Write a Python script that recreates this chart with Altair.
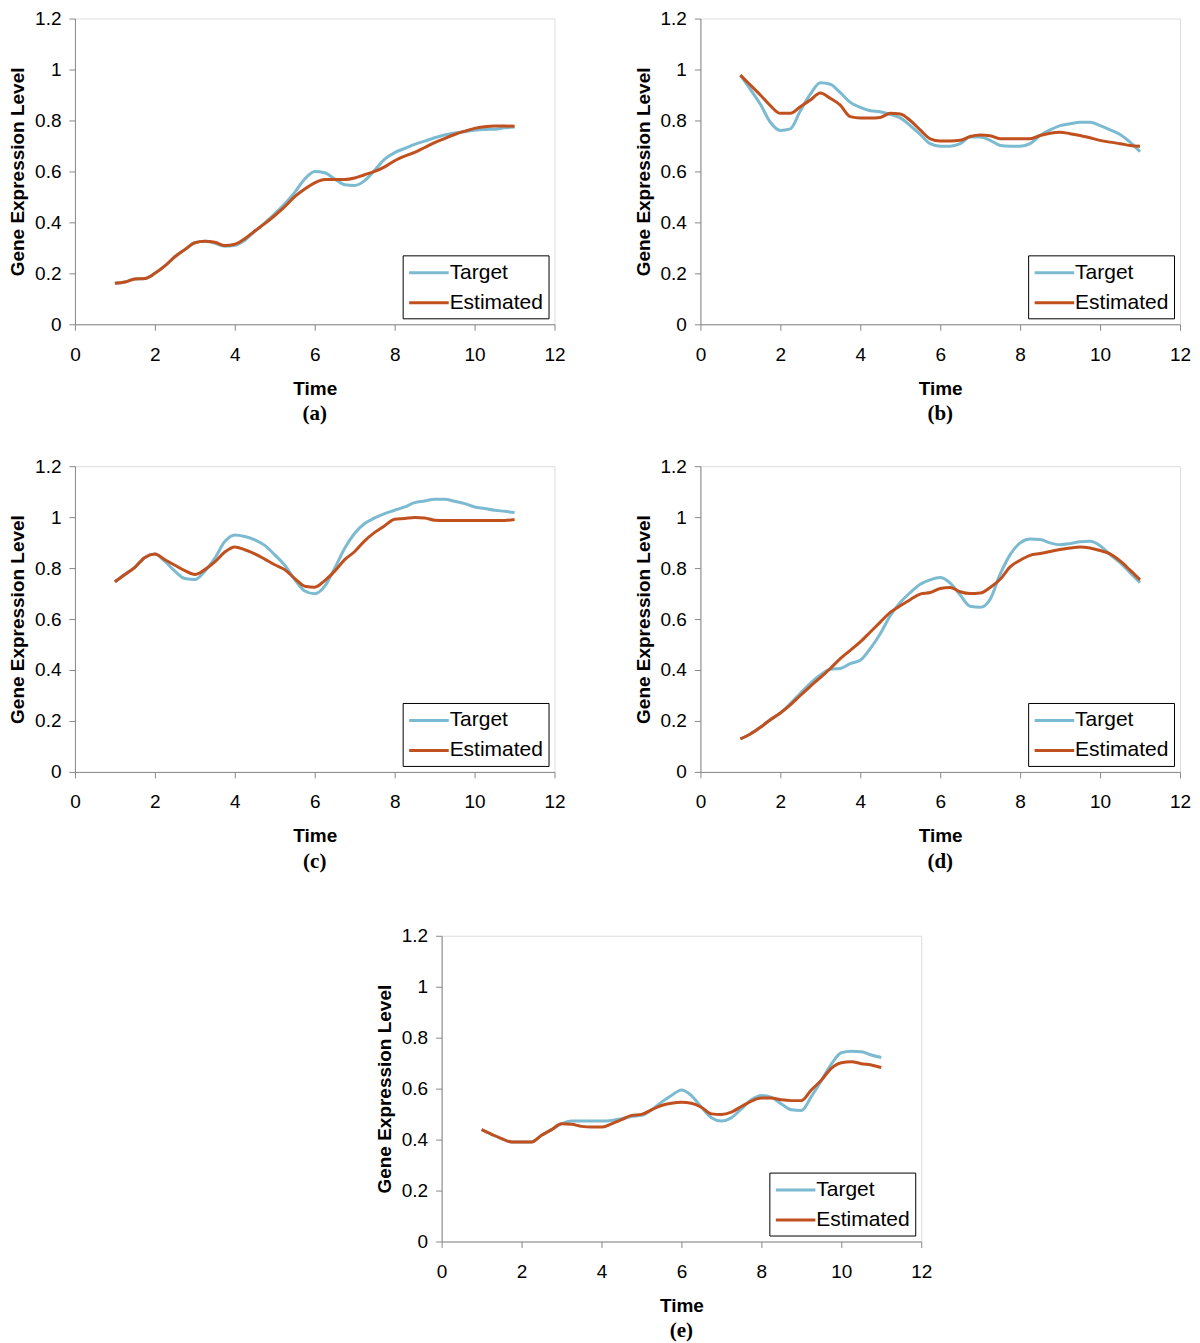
import altair as alt
import pandas as pd

TIME = [1, 1.25, 1.5, 1.75, 2, 2.25, 2.5, 2.75, 3, 3.25, 3.5, 3.75, 4, 4.25, 4.5, 4.75,
        5, 5.25, 5.5, 5.75, 6, 6.25, 6.5, 6.75, 7, 7.25, 7.5, 7.75, 8, 8.25, 8.5, 8.75,
        9, 9.25, 9.5, 9.75, 10, 10.25, 10.5, 10.75, 11]

SERIES = ["Target", "Estimated"]
X_TICKS = [0, 2, 4, 6, 8, 10, 12]
Y_TICKS = [0, 0.2, 0.4, 0.6, 0.8, 1.0, 1.2]

A_TARGET = [0.161, 0.166, 0.178, 0.180, 0.200, 0.229, 0.265, 0.293, 0.320, 0.326, 0.318,
            0.306, 0.310, 0.330, 0.365, 0.398, 0.434, 0.473, 0.518, 0.570, 0.600, 0.595,
            0.570, 0.548, 0.545, 0.564, 0.605, 0.648, 0.674, 0.690, 0.706, 0.719, 0.732,
            0.743, 0.751, 0.756, 0.762, 0.765, 0.766, 0.771, 0.774]
A_EST = [0.161, 0.166, 0.178, 0.180, 0.200, 0.229, 0.265, 0.293, 0.320, 0.326, 0.322,
         0.309, 0.314, 0.336, 0.366, 0.395, 0.427, 0.462, 0.501, 0.531, 0.555, 0.568,
         0.568, 0.568, 0.574, 0.587, 0.600, 0.618, 0.642, 0.660, 0.675, 0.694, 0.713,
         0.729, 0.745, 0.758, 0.769, 0.775, 0.778, 0.778, 0.777]

B_TARGET = [0.978, 0.922, 0.864, 0.793, 0.761, 0.767, 0.838, 0.903, 0.948, 0.942, 0.909,
            0.871, 0.851, 0.838, 0.834, 0.823, 0.810, 0.780, 0.745, 0.709, 0.699, 0.699,
            0.709, 0.735, 0.735, 0.722, 0.702, 0.699, 0.699, 0.709, 0.741, 0.763, 0.780,
            0.787, 0.793, 0.793, 0.780, 0.763, 0.745, 0.715, 0.677]
B_EST = [0.978, 0.939, 0.900, 0.858, 0.828, 0.828, 0.854, 0.880, 0.908, 0.887, 0.860,
         0.815, 0.810, 0.810, 0.812, 0.828, 0.825, 0.800, 0.763, 0.728, 0.719, 0.719,
         0.722, 0.737, 0.743, 0.740, 0.728, 0.728, 0.728, 0.728, 0.741, 0.750, 0.754,
         0.748, 0.741, 0.732, 0.722, 0.715, 0.709, 0.702, 0.699]

C_TARGET = [0.746, 0.775, 0.803, 0.842, 0.855, 0.826, 0.788, 0.759, 0.755, 0.788, 0.839,
            0.904, 0.930, 0.924, 0.911, 0.889, 0.852, 0.811, 0.755, 0.710, 0.699, 0.729,
            0.800, 0.878, 0.937, 0.975, 0.997, 1.014, 1.027, 1.040, 1.057, 1.063, 1.070,
            1.070, 1.062, 1.053, 1.040, 1.034, 1.027, 1.023, 1.018]
C_EST = [0.746, 0.775, 0.803, 0.842, 0.855, 0.833, 0.811, 0.790, 0.775, 0.794, 0.824,
         0.863, 0.883, 0.872, 0.856, 0.835, 0.813, 0.794, 0.759, 0.729, 0.725, 0.751,
         0.788, 0.833, 0.865, 0.907, 0.940, 0.966, 0.992, 0.995, 0.999, 0.997, 0.988,
         0.987, 0.987, 0.987, 0.987, 0.987, 0.987, 0.987, 0.991]

D_TARGET = [0.130, 0.149, 0.175, 0.205, 0.231, 0.268, 0.309, 0.348, 0.380, 0.403, 0.406,
            0.425, 0.438, 0.484, 0.542, 0.613, 0.665, 0.704, 0.737, 0.754, 0.763, 0.741,
            0.694, 0.650, 0.646, 0.678, 0.776, 0.853, 0.899, 0.914, 0.912, 0.899, 0.892,
            0.896, 0.903, 0.905, 0.888, 0.853, 0.821, 0.782, 0.743]
D_EST = [0.130, 0.149, 0.175, 0.205, 0.231, 0.263, 0.300, 0.336, 0.370, 0.406, 0.445,
         0.477, 0.510, 0.549, 0.588, 0.626, 0.652, 0.676, 0.698, 0.704, 0.720, 0.724,
         0.707, 0.700, 0.702, 0.724, 0.756, 0.805, 0.831, 0.850, 0.857, 0.865, 0.873,
         0.879, 0.883, 0.879, 0.869, 0.856, 0.828, 0.792, 0.754]

E_TARGET = [0.439, 0.421, 0.404, 0.391, 0.391, 0.391, 0.417, 0.439, 0.462, 0.473, 0.473,
            0.473, 0.473, 0.475, 0.482, 0.491, 0.495, 0.517, 0.547, 0.573, 0.595, 0.573,
            0.527, 0.486, 0.473, 0.486, 0.521, 0.556, 0.573, 0.566, 0.540, 0.517, 0.514,
            0.569, 0.631, 0.696, 0.741, 0.747, 0.745, 0.732, 0.722]
E_EST = [0.439, 0.421, 0.404, 0.391, 0.391, 0.391, 0.417, 0.439, 0.462, 0.460, 0.452,
         0.449, 0.449, 0.462, 0.478, 0.495, 0.499, 0.517, 0.534, 0.543, 0.547, 0.543,
         0.527, 0.501, 0.499, 0.508, 0.530, 0.551, 0.563, 0.563, 0.556, 0.553, 0.553,
         0.595, 0.633, 0.680, 0.702, 0.706, 0.698, 0.693, 0.683]

COLORS = ["#7bbad0", "#c1501f"]
SANS = "Liberation Sans, Arial"
PW, PH = 480, 306


def panel(label, target, est):
    df = pd.DataFrame({
        "Time": TIME + TIME,
        "value": target + est,
        "series": [SERIES[0]] * len(TIME) + [SERIES[1]] * len(TIME),
    })
    base = alt.Chart(df).encode(
        x=alt.X("Time:Q",
                scale=alt.Scale(domain=[0, 12], nice=False, zero=False),
                axis=alt.Axis(values=X_TICKS, title="Time", grid=False, labelFlush=False,
                              labelFont=SANS, labelFontSize=19, labelPadding=15,
                              titleFont=SANS, titleFontSize=19, titleFontWeight="bold",
                              titlePadding=15, tickSize=6)),
        y=alt.Y("value:Q",
                scale=alt.Scale(domain=[0, 1.2], nice=False),
                axis=alt.Axis(values=Y_TICKS, format="~g", title="Gene Expression Level",
                              grid=False, labelFlush=False, labelFont=SANS, labelFontSize=19,
                              labelPadding=8, titleFont=SANS, titleFontSize=19,
                              titleFontWeight="bold", titlePadding=7, tickSize=6)),
        color=alt.Color("series:N",
                        scale=alt.Scale(domain=SERIES, range=COLORS),
                        legend=alt.Legend(title=None, orient="bottom-right", offset=6,
                                          strokeColor="black", fillColor="white",
                                          padding=5, symbolType="M-1,0H2.6",
                                          symbolSize=484, symbolStrokeWidth=3,
                                          labelFont=SANS, labelFontSize=21,
                                          labelColor="black", labelOffset=17,
                                          rowPadding=7)),
    )
    t_line = base.transform_filter(alt.datum.series == SERIES[0]).mark_line(
        strokeWidth=3, interpolate="monotone")
    e_line = base.transform_filter(alt.datum.series == SERIES[1]).mark_line(
        strokeWidth=3, interpolate="monotone")
    return alt.layer(t_line, e_line).properties(
        width=PW, height=PH,
        title=alt.TitleParams(label, orient="bottom", font="Liberation Serif",
                              fontSize=21, fontWeight="bold", color="black", offset=5),
    )


spacer = alt.Chart(pd.DataFrame({"v": [0]}), view=alt.ViewBackground(strokeOpacity=0)).mark_point(
    opacity=0).encode(x=alt.X("v:Q", axis=None), y=alt.Y("v:Q", axis=None)).properties(
    width=233, height=PH)

row1 = alt.hconcat(panel("(a)", A_TARGET, A_EST), panel("(b)", B_TARGET, B_EST),
                   spacing=67).resolve_scale(color="independent").resolve_legend(color="independent")
row2 = alt.hconcat(panel("(c)", C_TARGET, C_EST), panel("(d)", D_TARGET, D_EST),
                   spacing=67).resolve_scale(color="independent").resolve_legend(color="independent")
row3 = alt.hconcat(spacer, panel("(e)", E_TARGET, E_EST),
                   spacing=67).resolve_scale(color="independent").resolve_legend(color="independent")

top = alt.vconcat(row1, row2, spacing=31).resolve_scale(color="independent").resolve_legend(color="independent")
chart = alt.vconcat(top, row3, spacing=53).resolve_scale(color="independent").resolve_legend(
    color="independent").properties(padding=0).configure_view(
    stroke="#8a8a8a", strokeWidth=1.5).configure_axis(
    domainColor="black", domainWidth=1.5, tickColor="black", tickWidth=1.5,
    labelColor="black", titleColor="black").configure(background="white")

chart.save("out.html", embed_options={"renderer": "svg", "actions": False})
